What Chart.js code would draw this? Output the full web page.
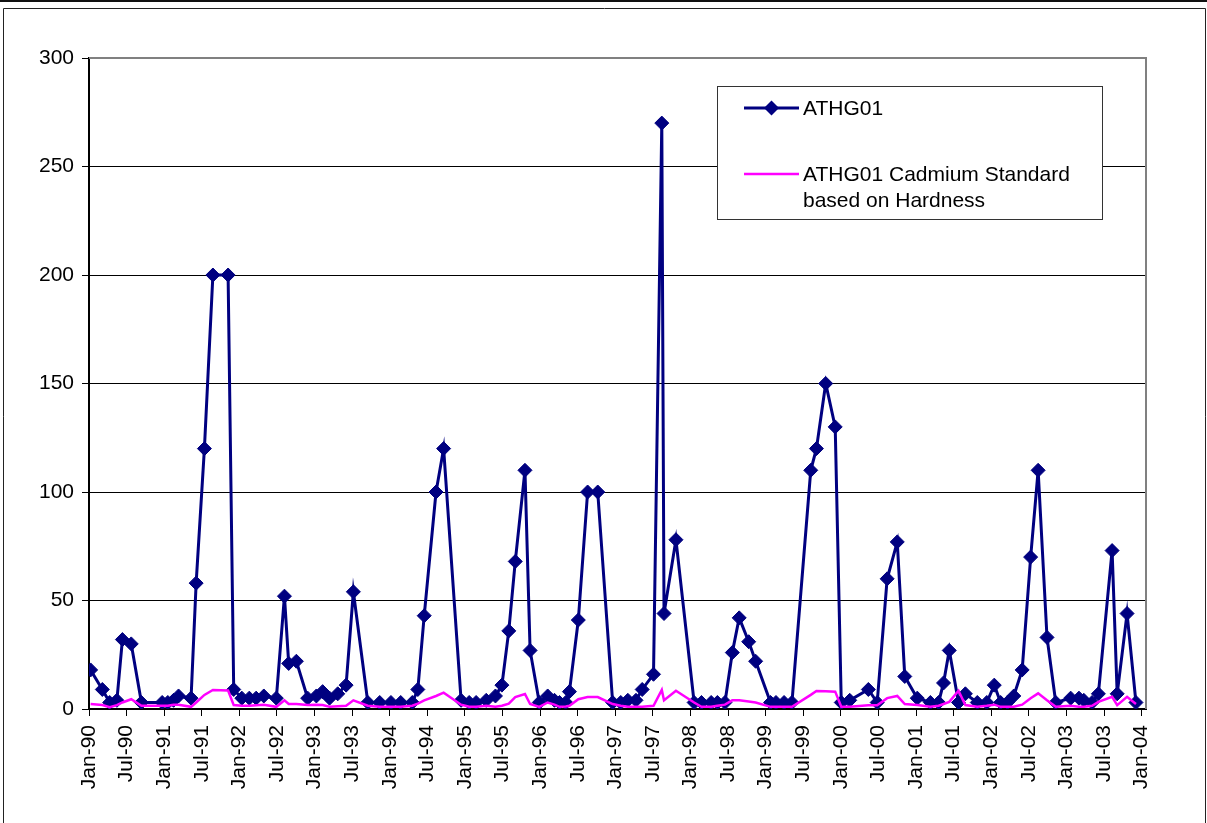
<!DOCTYPE html>
<html>
<head>
<meta charset="utf-8">
<title>ATHG01 Cadmium</title>
<script src="https://cdn.jsdelivr.net/npm/chart.js@4.4.1/dist/chart.umd.min.js"></script>
<style>
  html, body { margin: 0; padding: 0; background: #fff; }
  canvas { display: block; }
</style>
</head>
<body>
<canvas id="chart" width="1207" height="823"></canvas>
<script>
// Sampling dates for station ATHG01
const sampleDates = [
  '1990-01-09','1990-03-05','1990-04-10','1990-05-15','1990-06-11','1990-07-24','1990-09-12','1990-12-22',
  '1991-01-19','1991-02-15','1991-03-10','1991-05-10','1991-06-04','1991-07-14','1991-08-25','1991-11-07','1991-12-04',
  '1992-01-13','1992-02-18','1992-03-22','1992-04-28','1992-06-28','1992-08-07','1992-08-28','1992-10-04','1992-11-28',
  '1993-01-10','1993-02-09','1993-03-13','1993-04-22','1993-06-02','1993-07-07','1993-09-16','1993-11-13',
  '1994-01-07','1994-02-22','1994-04-19','1994-05-16','1994-06-16','1994-08-13','1994-09-19','1994-12-13',
  '1995-01-22','1995-02-23','1995-04-13','1995-05-28','1995-06-28','1995-08-01','1995-09-02','1995-10-19','1995-11-13','1995-12-28',
  '1996-02-07','1996-03-10','1996-04-04','1996-05-04','1996-05-22','1996-07-04','1996-08-19','1996-10-07','1996-12-19',
  '1997-01-28','1997-03-01','1997-04-10','1997-05-10','1997-07-04','1997-08-14','1997-08-25','1997-10-22',
  '1998-01-19','1998-02-22','1998-04-10','1998-05-10','1998-06-16','1998-07-22','1998-08-25','1998-10-10','1998-11-13',
  '1999-01-25','1999-02-19','1999-03-30','1999-05-07','1999-08-07','1999-09-04','1999-10-19','1999-12-04',
  '2000-01-03','2000-02-13','2000-05-13','2000-06-25','2000-08-13','2000-10-01','2000-11-07',
  '2001-01-07','2001-03-10','2001-04-19','2001-05-13','2001-06-10','2001-07-25','2001-08-28','2001-10-25','2001-12-10',
  '2002-01-16','2002-02-15','2002-03-19','2002-04-19','2002-05-30','2002-07-10','2002-08-16','2002-09-28','2002-11-10',
  '2003-01-22','2003-03-01','2003-03-25','2003-05-04','2003-06-04','2003-08-10','2003-09-04','2003-10-22','2003-12-04'
];

// Measured cadmium at ATHG01
const athg01 = [
  18, 9, 3, 4, 32, 30, 3, 3,
  3, 4, 6, 5, 58, 120, 200, 200, 9,
  5, 5, 5, 6, 5, 52, 21, 22, 5,
  6, 8, 5, 7, 11, 54, 3, 3,
  3, 3, 3, 9, 43, 100, 120, 4,
  3, 3, 4, 6, 11, 36, 68, 110, 27, 3,
  6, 4, 3, 3, 8, 41, 100, 100, 3,
  3, 4, 4, 9, 16, 270, 44, 78,
  3, 3, 3, 3, 3, 26, 42, 31, 22,
  3, 3, 3, 3, 110, 120, 150, 130,
  3, 4, 9, 3, 60, 77, 15,
  5, 3, 3, 12, 27, 3, 7, 3, 3,
  11, 3, 3, 6, 18, 70, 110, 33, 3,
  5, 5, 4, 3, 7, 73, 7, 44, 3
];

// Hardness-based cadmium standard on the same dates
const cadmiumStandard = [
  2.3, 1.8, 0.8, 1.8, 3, 4.5, 1.5, 1.5,
  1.5, 2, 2, 1, 3, 6.5, 8.8, 8.5, 1.8,
  1.5, 1.5, 1.7, 2, 1, 4, 2.3, 2.3, 1.8,
  2, 1.8, 1, 1.3, 1.5, 4, 1.5, 1,
  1, 1, 1.5, 2.5, 4, 6, 7.5, 2,
  1, 1, 1.5, 1, 1.5, 2.5, 5.5, 6.9, 2.3, 1,
  3, 2, 1, 1.2, 1.5, 4.5, 5.5, 5.5, 2.3,
  1.5, 1, 1, 1, 1.5, 8.8, 4, 8.4,
  3, 1, 1, 1.5, 2, 4, 4, 3.5, 3,
  1, 1, 1, 1, 6.5, 8.3, 8.2, 8,
  1, 1, 1.7, 1.7, 5, 6, 2.3,
  1.8, 1, 1.5, 2.3, 3.3, 8.4, 1.8, 1, 1.5,
  2, 1, 1, 1, 2, 5, 7.2, 4, 1,
  1.5, 1, 1, 1.5, 3.3, 5.6, 1.8, 5.6, 2.3
];

const tickLabels = [
  'Jan-90','Jul-90','Jan-91','Jul-91','Jan-92','Jul-92','Jan-93','Jul-93',
  'Jan-94','Jul-94','Jan-95','Jul-95','Jan-96','Jul-96','Jan-97','Jul-97',
  'Jan-98','Jul-98','Jan-99','Jul-99','Jan-00','Jul-00','Jan-01','Jul-01',
  'Jan-02','Jul-02','Jan-03','Jul-03','Jan-04'
];

const seriesNames = ['ATHG01', 'ATHG01 Cadmium Standard based on Hardness'];

const FONT = '"Liberation Sans", Arial, Helvetica, sans-serif';
const NAVY = '#000080';
const MAGENTA = '#FF00FF';

// Position on the x axis, in months from January 1990
function monthsSince1990(iso) {
  const [y, m, d] = iso.split('-').map(Number);
  const days = new Date(y, m, 0).getDate();
  return (y - 1990) * 12 + (m - 1) + (d - 1) / days;
}

const xs = sampleDates.map(monthsSince1990);
const toPoints = vals => vals.map((v, i) => ({ x: xs[i], y: v }));

// White page with the outer frame
const framePlugin = {
  id: 'frame',
  beforeDraw(chart) {
    const { ctx, width, height } = chart;
    ctx.save();
    ctx.fillStyle = '#fff';
    ctx.fillRect(0, 0, width, height);
    ctx.fillStyle = '#111';
    ctx.fillRect(0, 0, width, 2);
    ctx.strokeStyle = '#222';
    ctx.lineWidth = 1;
    ctx.beginPath();
    ctx.moveTo(3.5, height + 5);
    ctx.lineTo(3.5, 8.5);
    ctx.lineTo(1205.5, 8.5);
    ctx.lineTo(1205.5, height + 5);
    ctx.stroke();
    ctx.restore();
  }
};

// Grey border on the top and right of the plot area
const plotBorderPlugin = {
  id: 'plotBorder',
  beforeDatasetsDraw(chart) {
    const { ctx, chartArea: a } = chart;
    ctx.save();
    ctx.strokeStyle = '#808080';
    ctx.lineWidth = 2;
    ctx.beginPath();
    ctx.moveTo(a.left, a.top);
    ctx.lineTo(a.right, a.top);
    ctx.lineTo(a.right, a.bottom);
    ctx.stroke();
    ctx.restore();
  }
};

// Boxed legend inside the plot
const boxLegendPlugin = {
  id: 'boxLegend',
  afterDraw(chart) {
    const { ctx } = chart;
    const box = { x: 717, y: 86, w: 385, h: 133 };
    ctx.save();
    ctx.fillStyle = '#fff';
    ctx.fillRect(box.x, box.y, box.w, box.h);
    ctx.strokeStyle = '#333';
    ctx.lineWidth = 1;
    ctx.strokeRect(box.x + 0.5, box.y + 0.5, box.w, box.h);

    ctx.font = '21px ' + FONT;
    ctx.textBaseline = 'alphabetic';
    ctx.textAlign = 'left';
    const symX0 = 744, symX1 = 799, textX = 803, maxW = 290, lineH = 25.7;
    const baselines = [115, 181];

    chart.data.datasets.forEach((ds, i) => {
      // word-wrap the series name
      const words = ds.label.split(' ');
      const lines = [];
      let cur = '';
      words.forEach(w => {
        const t = cur ? cur + ' ' + w : w;
        if (ctx.measureText(t).width > maxW && cur) { lines.push(cur); cur = w; }
        else cur = t;
      });
      if (cur) lines.push(cur);

      const base = baselines[i];
      const cy = base - 7;
      ctx.strokeStyle = ds.borderColor;
      ctx.lineWidth = ds.borderWidth;
      ctx.beginPath();
      ctx.moveTo(symX0, cy);
      ctx.lineTo(symX1, cy);
      ctx.stroke();
      if (ds.pointRadius > 0) {
        const r = 7.5, cx = (symX0 + symX1) / 2;
        ctx.fillStyle = ds.pointBackgroundColor;
        ctx.beginPath();
        ctx.moveTo(cx - r, cy);
        ctx.lineTo(cx, cy - r);
        ctx.lineTo(cx + r, cy);
        ctx.lineTo(cx, cy + r);
        ctx.closePath();
        ctx.fill();
      }
      ctx.fillStyle = '#000';
      lines.forEach((ln, k) => ctx.fillText(ln, textX, base + k * lineH));
    });
    ctx.restore();
  }
};

new Chart(document.getElementById('chart'), {
  type: 'line',
  data: {
    datasets: [
      {
        label: seriesNames[0],
        data: toPoints(athg01),
        borderColor: NAVY,
        borderWidth: 3,
        pointStyle: 'rectRot',
        pointRadius: 7,
        pointBackgroundColor: NAVY,
        pointBorderColor: NAVY,
        pointBorderWidth: 1,
        tension: 0,
        order: 1
      },
      {
        label: seriesNames[1],
        data: toPoints(cadmiumStandard),
        borderColor: MAGENTA,
        borderWidth: 2.5,
        pointRadius: 0,
        tension: 0,
        order: 0
      }
    ]
  },
  options: {
    responsive: false,
    animation: false,
    events: [],
    layout: { padding: { left: 0, top: 58, right: 61, bottom: 0 } },
    plugins: { legend: { display: false }, tooltip: { enabled: false } },
    scales: {
      x: {
        type: 'linear',
        min: 0,
        max: 168.7,
        afterBuildTicks: s => { s.ticks = tickLabels.map((_, i) => ({ value: i * 6 })); },
        afterFit: s => { s.height = 114; },
        grid: { drawOnChartArea: false, drawTicks: true, tickLength: 7, color: '#000', lineWidth: 1 },
        border: { display: true, color: '#000', width: 2 },
        ticks: {
          autoSkip: false,
          minRotation: 90,
          maxRotation: 90,
          padding: 9,
          color: '#000',
          font: { family: FONT, size: 21 },
          callback: (v, i) => tickLabels[i]
        }
      },
      y: {
        min: 0,
        max: 300,
        afterFit: s => { s.width = 89; },
        grid: { color: '#000', lineWidth: 1, tickLength: 7 },
        border: { display: true, color: '#000', width: 2 },
        ticks: {
          stepSize: 50,
          padding: 8,
          color: '#000',
          font: { family: FONT, size: 21 }
        }
      }
    }
  },
  plugins: [framePlugin, plotBorderPlugin, boxLegendPlugin]
});
</script>
</body>
</html>
